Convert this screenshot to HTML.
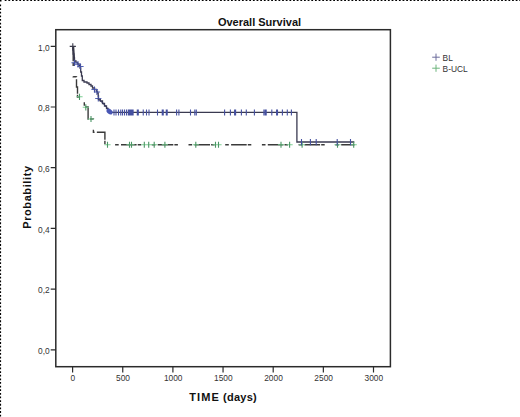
<!DOCTYPE html>
<html><head><meta charset="utf-8"><style>
html,body{margin:0;padding:0;background:#fff;}
body{width:520px;height:417px;overflow:hidden;position:relative;}
svg{position:absolute;left:0;top:0;}
text{font-family:"Liberation Sans",sans-serif;fill:#222;}
.tk{font-size:9px;fill:#333;}
.ttl{font-size:11px;font-weight:bold;fill:#111;}
.lg{font-size:8.4px;fill:#333;}
</style></head><body>
<svg width="520" height="417" viewBox="0 0 520 417">
<rect x="55.8" y="29.7" width="334.6" height="337.0" fill="none" stroke="#2b2b2b" stroke-width="1.5"/>
<path d="M50.7,46.30H55.8M50.7,107.00H55.8M50.7,167.70H55.8M50.7,228.40H55.8M50.7,289.10H55.8M50.7,349.80H55.8M72.60,366.8V372.6M122.75,366.8V372.6M172.90,366.8V372.6M223.05,366.8V372.6M273.20,366.8V372.6M323.35,366.8V372.6M373.50,366.8V372.6" stroke="#2b2b2b" stroke-width="1.2" fill="none"/>
<text transform="translate(49.7,50.60) scale(0.93,1)" text-anchor="end" class="tk">1,0</text><text transform="translate(49.7,111.30) scale(0.93,1)" text-anchor="end" class="tk">0,8</text><text transform="translate(49.7,172.00) scale(0.93,1)" text-anchor="end" class="tk">0,6</text><text transform="translate(49.7,232.70) scale(0.93,1)" text-anchor="end" class="tk">0,4</text><text transform="translate(49.7,293.40) scale(0.93,1)" text-anchor="end" class="tk">0,2</text><text transform="translate(49.7,354.10) scale(0.93,1)" text-anchor="end" class="tk">0,0</text><text transform="translate(72.90,380.5) scale(0.93,1)" text-anchor="middle" class="tk">0</text><text transform="translate(123.05,380.5) scale(0.93,1)" text-anchor="middle" class="tk">500</text><text transform="translate(173.20,380.5) scale(0.93,1)" text-anchor="middle" class="tk">1000</text><text transform="translate(223.35,380.5) scale(0.93,1)" text-anchor="middle" class="tk">1500</text><text transform="translate(273.50,380.5) scale(0.93,1)" text-anchor="middle" class="tk">2000</text><text transform="translate(323.65,380.5) scale(0.93,1)" text-anchor="middle" class="tk">2500</text><text transform="translate(373.80,380.5) scale(0.93,1)" text-anchor="middle" class="tk">3000</text>
<text x="259.5" y="25.5" text-anchor="middle" class="ttl">Overall Survival</text>
<text x="189.3" y="401.2" class="ttl"><tspan letter-spacing="1.1">TIME</tspan> <tspan letter-spacing="0.25">(days)</tspan></text>
<text transform="translate(31.4,228.8) rotate(-90)" class="ttl" letter-spacing="0.6">Probability</text>
<path d="M73.4,46.5 L74.3,60" stroke="#2a2a3a" stroke-width="1.6" fill="none"/>
<path d="M73.2,46.3 V76.7 H76.5 V87 H77.5 V97 H84.3 V107 H88.1 V119 H93.4 V132.2 H104.9 V144.75 H354.5" stroke="#3a3a3a" stroke-width="1.4" fill="none" stroke-dasharray="3.6 2.3 15.6 1.1 3.5 10.6" stroke-dashoffset="6.45"/>
<path d="M72.8,46.3 V50 H73.2 V54 H73.8 V58 H74.5 V61 H76 V62.5 H77.5 V64 H79 V65.5 H80 V68 H80.7 V72 H81.5 V76 H82.3 V80.5 H84 V82 H87 V83 H89 V84.5 H91 V86 H92.5 V88 H94.5 V89.5 H96.5 V91.5 H97.5 V93 H98.2 V96 H98.5 V99 H100.3 V101 H102.5 V103.5 H104.5 V106 H106.5 V108.5 H108 V110.5 H109.5 V112.3 H296.9 V142.0 H354.3" stroke="#3a3a50" stroke-width="1.3" fill="none"/>
<path d="M69.7,46.4h6.2M72.8,43.3v6.2" stroke="#3c3c4c" stroke-width="1.1" fill="none"/>
<path d="M76.40,96.80h6.20M82.70,107.30h6.20M87.90,119.00h6.20M104.40,144.75h6.20M126.40,144.75h6.20M128.40,144.75h6.20M141.20,144.75h6.20M145.60,144.75h6.20M151.10,144.75h6.20M161.80,144.75h6.20M192.70,144.75h6.20M212.40,144.75h6.20M215.40,144.75h6.20M277.90,144.75h6.20M286.50,144.75h6.20M299.00,144.75h6.20M334.40,144.75h6.20M350.60,144.75h6.20" stroke="#7ccf92" stroke-width="1.1" fill="none"/>
<path d="M79.50,93.70v6.20M85.80,104.20v6.20M91.00,115.90v6.20M107.50,141.65v6.20M129.50,141.65v6.20M131.50,141.65v6.20M144.30,141.65v6.20M148.70,141.65v6.20M154.20,141.65v6.20M164.90,141.65v6.20M195.80,141.65v6.20M215.50,141.65v6.20M218.50,141.65v6.20M281.00,141.65v6.20M289.60,141.65v6.20M302.10,141.65v6.20M337.50,141.65v6.20M353.70,141.65v6.20" stroke="#4c9666" stroke-width="1.1" fill="none"/>
<path d="M71.40,62.80h6.20M74.90,64.30h6.20M77.40,66.50h6.20M91.40,89.50h6.20M93.90,92.00h6.20M95.20,98.50h6.20" stroke="#5262b4" stroke-width="1.1" fill="none"/>
<path d="M74.50,59.70v6.20M78.00,61.20v6.20M80.50,63.40v6.20M94.50,86.40v6.20M97.00,88.90v6.20M98.30,95.40v6.20M114.00,109.40v6.20M116.00,109.40v6.20M118.50,109.40v6.20M120.75,109.40v6.20M122.50,109.40v6.20M124.50,109.40v6.20M126.50,109.40v6.20M128.30,109.40v6.20M129.30,109.40v6.20M130.30,109.40v6.20M131.30,109.40v6.20M132.30,109.40v6.20M133.10,109.40v6.20M137.30,109.40v6.20M138.30,109.40v6.20M143.25,109.40v6.20M146.50,109.40v6.20M149.00,109.40v6.20M157.50,109.40v6.20M162.25,109.40v6.20M163.25,109.40v6.20M166.30,109.40v6.20M167.20,109.40v6.20M176.60,109.40v6.20M178.90,109.40v6.20M190.50,109.40v6.20M194.80,109.40v6.20M196.30,109.40v6.20M224.60,109.40v6.20M230.40,109.40v6.20M234.60,109.40v6.20M235.60,109.40v6.20M241.40,109.40v6.20M246.30,109.40v6.20M254.40,109.40v6.20M263.90,109.40v6.20M265.20,109.40v6.20M266.20,109.40v6.20M271.80,109.40v6.20M276.60,109.40v6.20M277.50,109.40v6.20M282.40,109.40v6.20M287.30,109.40v6.20M291.40,109.40v6.20M301.50,139.10v6.20M310.40,139.10v6.20M316.20,139.10v6.20M337.20,139.10v6.20M350.50,139.10v6.20" stroke="#4550a0" stroke-width="1.1" fill="none"/>
<path d="M97.8,98.6 L100.5,100.8 L103,103.2 L105.5,106 L108,109" stroke="#3a3c62" stroke-width="1.1" fill="none"/>
<ellipse cx="109.6" cy="111.6" rx="3.4" ry="2.4" transform="rotate(38 109.6 111.6)" fill="#4856b4"/>
<path d="M432.2,57.2h7.6M436,53.6v7.2" stroke="#6c6c9c" stroke-width="1" fill="none"/>
<path d="M432.2,68.2h7.6M436,64.6v7.2" stroke="#6cb47c" stroke-width="1" fill="none"/>
<text x="442.6" y="61.1" class="lg">BL</text>
<text x="442.6" y="71.7" class="lg">B-UCL</text>
<path d="M3.65,0.55H520" stroke="#000" stroke-width="1.1" stroke-dasharray="1.8 1.85" stroke-dashoffset="2.6" fill="none"/>
<path d="M0.55,3.63V417" stroke="#000" stroke-width="1.1" stroke-dasharray="1.8 1.83" stroke-dashoffset="2.73" fill="none"/>
<rect x="0" y="0" width="1.5" height="1.5" fill="#000"/>
</svg>
</body></html>
